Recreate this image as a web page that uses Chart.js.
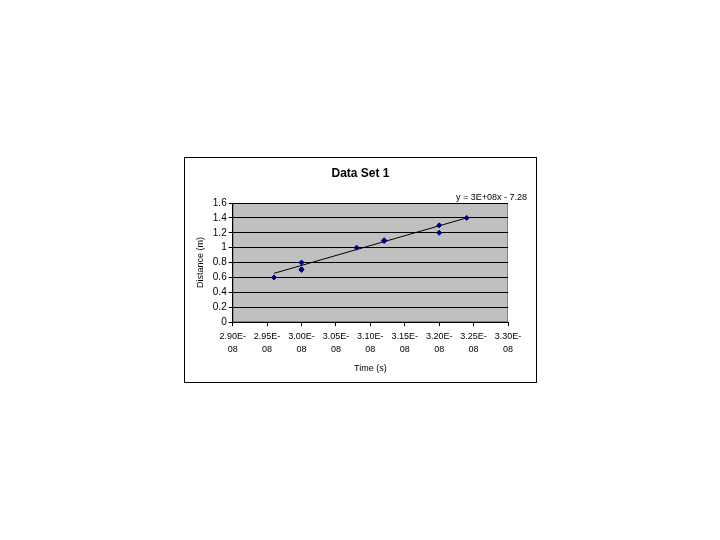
<!DOCTYPE html>
<html>
<head>
<meta charset="utf-8">
<script src="https://cdn.jsdelivr.net/npm/chart.js@4"></script>
<style>
  body { margin: 0; background: #fff; }
  #box { position: absolute; left: 184px; top: 157px; width: 351px; height: 224px; border: 1px solid #000; background: #fff; }
</style>
</head>
<body>
<div id="box"><canvas id="chart" width="351" height="224"></canvas></div>
<script>
// time values in units of 1E-08 s, distance in m
const timeVals = [2.96, 3.00, 3.00, 3.00, 3.08, 3.12, 3.12, 3.20, 3.20, 3.24];
const distVals = [0.60, 0.80, 0.70, 0.71, 1.00, 1.10, 1.09, 1.30, 1.20, 1.40];
// trendline end points
const trendTime = [2.96, 3.24];
const trendDist = [0.655, 1.40];
const trendLabel = 'y = 3E+08x - 7.28';
const chartTitle = 'Data Set 1';

const font = 'Arial, "Liberation Sans", sans-serif';

// gray plot area, chart title centred on the whole box, trendline equation
const plotBg = {
  id: 'plotBg',
  beforeDraw(chart) {
    const a = chart.chartArea, c = chart.ctx;
    c.save();
    c.fillStyle = '#c0c0c0';
    c.fillRect(a.left, a.top, a.right - a.left, a.bottom - a.top);
    c.strokeStyle = '#808080';
    c.lineWidth = 1;
    c.strokeRect(a.left + 0.5, a.top + 0.5, a.right - a.left - 1, a.bottom - a.top - 1);
    c.restore();
  },
  afterDraw(chart) {
    const c = chart.ctx, a = chart.chartArea;
    c.save();
    c.fillStyle = '#000';
    c.font = 'bold 12px ' + font;
    c.textAlign = 'center';
    c.textBaseline = 'middle';
    c.fillText(chartTitle, chart.width / 2, 16);
    c.font = '9px ' + font;
    c.textAlign = 'right';
    c.textBaseline = 'bottom';
    c.fillText(trendLabel, a.right + 19, a.top - 1);
    c.restore();
  }
};

new Chart(document.getElementById('chart'), {
  type: 'scatter',
  data: {
    datasets: [
      {
        label: 'Data',
        data: timeVals.map((t, i) => ({x: t, y: distVals[i]})),
        pointStyle: 'rectRot',
        pointRadius: 2.5,
        backgroundColor: '#000080',
        borderColor: '#000080',
        borderWidth: 1
      },
      {
        label: 'Trend',
        type: 'line',
        data: trendTime.map((t, i) => ({x: t, y: trendDist[i]})),
        borderColor: '#000',
        borderWidth: 1,
        pointRadius: 0,
        fill: false
      }
    ]
  },
  plugins: [plotBg],
  options: {
    responsive: false,
    animation: false,
    layout: { padding: { left: 10, right: 28, top: 45, bottom: 4 } },
    plugins: {
      legend: { display: false },
      tooltip: { enabled: false },
      title: { display: false }
    },
    scales: {
      x: {
        type: 'linear', min: 2.90, max: 3.30,
        ticks: {
          stepSize: 0.05, color: '#000', maxRotation: 0, autoSkip: false,
          font: { family: font, size: 9, lineHeight: 1.45 }, padding: 4,
          callback: v => [v.toFixed(2) + 'E-', '08']
        },
        grid: { drawOnChartArea: false, color: '#000', tickLength: 4 },
        border: { color: '#000' },
        title: { display: true, text: 'Time (s)', color: '#000', font: { family: font, size: 9 }, padding: { top: 3 } }
      },
      y: {
        min: 0, max: 1.6,
        ticks: {
          stepSize: 0.2, color: '#000', autoSkip: false, font: { family: font, size: 10 }, padding: 2,
          callback: v => String(Math.round(v * 10) / 10)
        },
        grid: { color: '#000', tickLength: 4 },
        border: { color: '#000' },
        title: { display: true, text: 'Distance (m)', color: '#000', font: { family: font, size: 9 }, padding: { top: 0, bottom: 5 } }
      }
    }
  }
});
</script>
</body>
</html>
